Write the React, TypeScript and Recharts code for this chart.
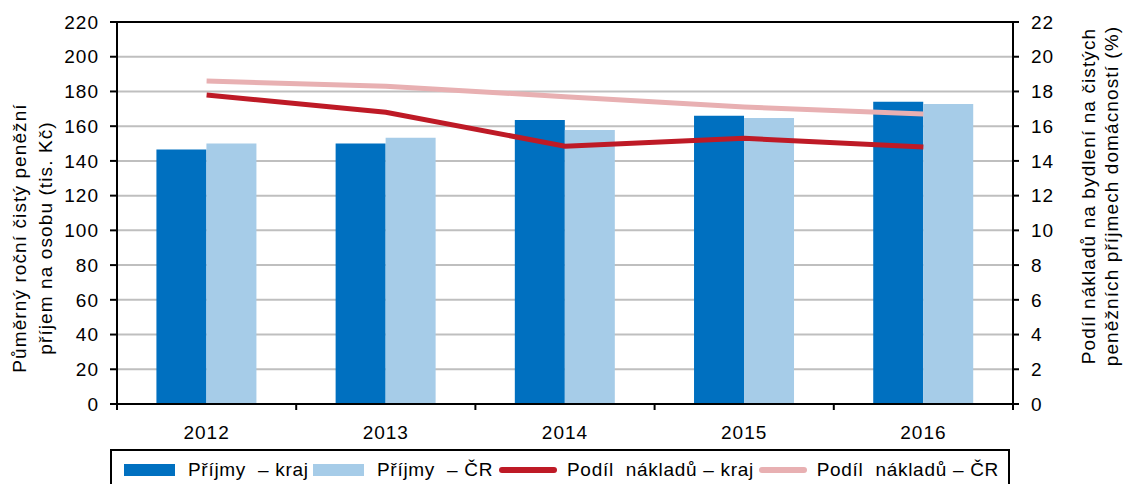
import {
  ComposedChart,
  Bar,
  Line,
  XAxis,
  YAxis,
  CartesianGrid,
  Legend,
  ReferenceLine,
} from 'recharts';

const years = ['2012', '2013', '2014', '2015', '2016'];
const prijmyKraj = [146.5, 150.0, 163.5, 166.0, 174.0];
const prijmyCR = [150.0, 153.3, 157.8, 164.7, 172.8];
const podilKraj = [17.8, 16.8, 14.85, 15.3, 14.8];
const podilCR = [18.6, 18.3, 17.7, 17.1, 16.7];

const leftTicks = [0, 20, 40, 60, 80, 100, 120, 140, 160, 180, 200, 220];
const rightTicks = [0, 2, 4, 6, 8, 10, 12, 14, 16, 18, 20, 22];

const FONT = '"Liberation Sans", Arial, sans-serif';
const DARK_BLUE = '#0070c0';
const LIGHT_BLUE = '#a6cce8';
const DARK_RED = '#be1a26';
const PINK = '#e8b0b2';

const data = years.map((y, i) => ({
  year: y,
  prijmyKraj: prijmyKraj[i],
  prijmyCR: prijmyCR[i],
  podilKraj: podilKraj[i],
  podilCR: podilCR[i],
}));

const legendItems = [
  { label: 'Příjmy  – kraj', color: DARK_BLUE, kind: 'bar' },
  { label: 'Příjmy  – ČR', color: LIGHT_BLUE, kind: 'bar' },
  { label: 'Podíl  nákladů – kraj', color: DARK_RED, kind: 'line' },
  { label: 'Podíl  nákladů – ČR', color: PINK, kind: 'line' },
];
// widths of the legend slots, in px
const legendSlots = [189, 186, 260, 240];

const BAND = 896 / years.length;
const tickStyle = { fontSize: 19, fontFamily: FONT, fill: '#000', letterSpacing: 1 };

function YearTick(props: any) {
  const { x, y, payload, index } = props;
  return (
    <g>
      <line x1={x - BAND / 2} x2={x - BAND / 2} y1={y} y2={y + 6} stroke="#000" strokeWidth={2} />
      {index === years.length - 1 && (
        <line x1={x + BAND / 2} x2={x + BAND / 2} y1={y} y2={y + 6} stroke="#000" strokeWidth={2} />
      )}
      <text x={x} y={y + 35} textAnchor="middle" {...tickStyle}>
        {payload.value}
      </text>
    </g>
  );
}

function LegendBox() {
  return (
    <div
      style={{
        border: '2px solid #000',
        height: 42,
        display: 'flex',
        alignItems: 'center',
        paddingLeft: 12,
        fontFamily: FONT,
        fontSize: 19,
        boxSizing: 'border-box',
      }}
    >
      {legendItems.map((it, i) => (
        <div
          key={it.label}
          style={{ display: 'flex', alignItems: 'center', width: legendSlots[i], flex: 'none' }}
        >
          <span
            style={{
              display: 'inline-block',
              width: it.kind === 'bar' ? 51 : 58,
              height: it.kind === 'bar' ? 12 : 6,
              borderRadius: it.kind === 'bar' ? 0 : 3,
              background: it.color,
              marginRight: it.kind === 'bar' ? 13 : 10,
            }}
          />
          <span style={{ whiteSpace: 'pre', letterSpacing: 0.7 }}>{it.label}</span>
        </div>
      ))}
    </div>
  );
}

function TwoLineLabel({ cx, cy, lines, gap }: { cx: number; cy: number; lines: string[]; gap: number }) {
  return (
    <text
      transform={`translate(${cx}, ${cy}) rotate(-90)`}
      textAnchor="middle"
      fontSize={19}
      fontFamily={FONT}
      fill="#000"
      letterSpacing={1.1}
    >
      {lines.map((l, i) => (
        <tspan key={i} x={0} y={i * gap}>
          {l}
        </tspan>
      ))}
    </text>
  );
}

export default function App() {
  return (
    <div style={{ position: 'absolute', left: 0, top: 0, background: '#fff' }}>
      <ComposedChart
        width={1125}
        height={484}
        data={data}
        margin={{ top: 22, right: 0, bottom: 0, left: 0 }}
        barCategoryGap="22%"
        barGap={0}
      >
        <CartesianGrid vertical={false} stroke="#bfbfbf" strokeWidth={2} yAxisId="left" />
        <XAxis
          dataKey="year"
          axisLine={{ stroke: '#000', strokeWidth: 2 }}
          tickLine={false}
          tickSize={0}
          tickMargin={0}
          height={45}
          tick={<YearTick />}
          interval={0}
        />
        <YAxis
          yAxisId="left"
          width={117}
          domain={[0, 220]}
          ticks={leftTicks}
          interval={0}
          axisLine={{ stroke: '#000', strokeWidth: 2 }}
          tickLine={{ stroke: '#000', strokeWidth: 2 }}
          tickSize={7}
          tickMargin={11}
          tick={tickStyle}
          label={{
            content: () => (
              <TwoLineLabel
                cx={26}
                cy={238}
                gap={26}
                lines={['Půměrný  roční čistý peněžní', 'příjem na osobu (tis. Kč)']}
              />
            ),
          }}
        />
        <YAxis
          yAxisId="right"
          orientation="right"
          width={112}
          domain={[0, 22]}
          ticks={rightTicks}
          interval={0}
          axisLine={{ stroke: '#000', strokeWidth: 2 }}
          tickLine={{ stroke: '#000', strokeWidth: 2 }}
          tickSize={6}
          tickMargin={12}
          tick={tickStyle}
          label={{
            content: () => (
              <TwoLineLabel
                cx={1095}
                cy={196}
                gap={23}
                lines={['Podíl  nákladů na bydlení na čistých', 'peněžních příjmech domácností (%)']}
              />
            ),
          }}
        />
        <ReferenceLine yAxisId="left" y={220} stroke="#000" strokeWidth={2} />
        <Bar yAxisId="left" dataKey="prijmyKraj" fill={DARK_BLUE} isAnimationActive={false} />
        <Bar yAxisId="left" dataKey="prijmyCR" fill={LIGHT_BLUE} isAnimationActive={false} />
        <Line
          yAxisId="right"
          dataKey="podilKraj"
          stroke={DARK_RED}
          strokeWidth={5}
          dot={false}
          activeDot={false}
          type="linear"
          isAnimationActive={false}
        />
        <Line
          yAxisId="right"
          dataKey="podilCR"
          stroke={PINK}
          strokeWidth={5}
          dot={false}
          activeDot={false}
          type="linear"
          isAnimationActive={false}
        />
        <Legend
          verticalAlign="bottom"
          height={35}
          content={<LegendBox />}
          wrapperStyle={{ left: 110, width: 900, top: 449, bottom: 'auto' }}
        />
      </ComposedChart>
    </div>
  );
}
